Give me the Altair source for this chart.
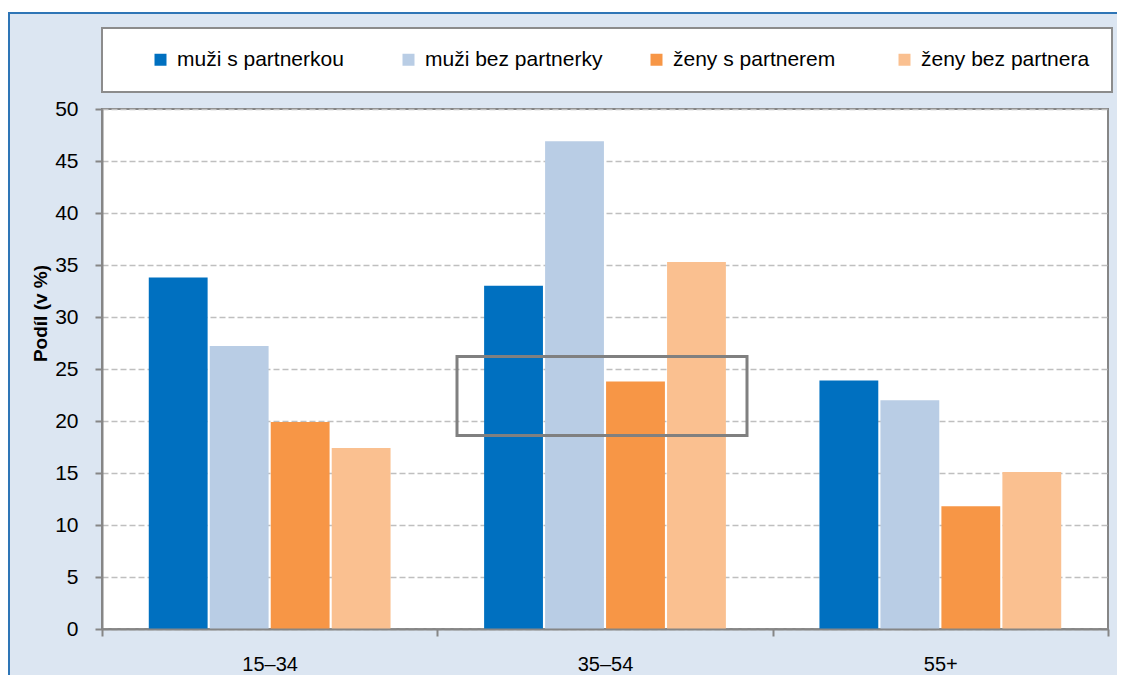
import altair as alt
import pandas as pd

# ---- data ----
categories = ["15–34", "35–54", "55+"]
series = ["muži s partnerkou", "muži bez partnerky", "ženy s partnerem", "ženy bez partnera"]
colors = ["#0070C0", "#B9CDE5", "#F79646", "#FAC090"]
muzi_s_partnerkou = [33.8, 33.0, 23.9]
muzi_bez_partnerky = [27.2, 46.9, 22.0]
zeny_s_partnerem = [19.9, 23.8, 11.8]
zeny_bez_partnera = [17.4, 35.3, 15.1]
y_ticks = [0, 5, 10, 15, 20, 25, 30, 35, 40, 45, 50]
y_title = "Podíl (v %)"
highlight_category = "35–54"
highlight_low = 18.6
highlight_high = 26.2

FONT = "Liberation Sans"

rows = []
for s, vals in zip(series, [muzi_s_partnerkou, muzi_bez_partnerky, zeny_s_partnerem, zeny_bez_partnera]):
    for c, v in zip(categories, vals):
        rows.append({"vek": c, "serie": s, "hodnota": v})
df = pd.DataFrame(rows)

hl = pd.DataFrame({"vek": [highlight_category], "od": [highlight_low], "do": [highlight_high]})
deco = pd.DataFrame({"k": [0]})

x_enc = alt.X(
    "vek:N",
    sort=categories,
    scale=alt.Scale(domain=categories, paddingInner=0, paddingOuter=0),
    axis=alt.Axis(
        title=None, labelAngle=0, tickBand="extent", tickSize=7, tickWidth=2,
        tickColor="#868686", domainColor="#868686", domainWidth=2,
        labelFont=FONT, labelFontSize=20, labelColor="black", labelPadding=18,
        zindex=1,
    ),
)

bars = alt.Chart(df).mark_bar().encode(
    x=x_enc,
    xOffset=alt.XOffset(
        "serie:N", sort=series,
        scale=alt.Scale(domain=series, paddingInner=0.035, paddingOuter=0.767),
    ),
    y=alt.Y(
        "hodnota:Q",
        scale=alt.Scale(domain=[0, 50], nice=False),
        axis=alt.Axis(
            values=y_ticks, title=y_title, grid=True, gridDash=[6, 3], gridColor="#BFBFBF",
            gridWidth=1.5, tickSize=7, tickWidth=2, tickColor="#868686",
            domainColor="#868686", domainWidth=2,
            labelFont=FONT, labelFontSize=21, labelColor="black", labelPadding=17,
            titleFont=FONT, titleFontSize=19, titleFontWeight="bold", titleColor="black",
            titleX=-62, titleY=204, titleAlign="center", titleBaseline="middle",
        ),
    ),
    color=alt.Color(
        "serie:N",
        sort=series,
        scale=alt.Scale(domain=series, range=colors),
        legend=alt.Legend(
            title=None, orient="none", legendX=48, legendY=-60, direction="horizontal",
            columns=4, columnPadding=43, gridAlign="all", symbolType="square",
            symbolSize=144, symbolStrokeWidth=0, labelFont=FONT, labelFontSize=21,
            labelColor="black", labelOffset=6, labelLimit=0, padding=0,
        ),
    ),
)

highlight = alt.Chart(hl).mark_bar(
    width=290, xOffset=-3, fillOpacity=0, stroke="#808080", strokeWidth=3
).encode(
    x=alt.X("vek:N", sort=categories),
    y=alt.Y("od:Q", title=y_title),
    y2="do:Q",
)

white_strip = alt.Chart(deco).mark_rect(color="white").encode(
    x=alt.value(-100), x2=alt.value(1040), y=alt.value(-105), y2=alt.value(-97)
)
border_top = alt.Chart(deco).mark_rule(color="#2E75B6", strokeWidth=2).encode(
    x=alt.value(-94), x2=alt.value(1040), y=alt.value(-96)
)
border_left = alt.Chart(deco).mark_rule(color="#2E75B6", strokeWidth=2).encode(
    x=alt.value(-93), y=alt.value(-96), y2=alt.value(600)
)
legend_box = alt.Chart(deco).mark_rect(fill="white", stroke="#8C8C8C", strokeWidth=2).encode(
    x=alt.value(0), x2=alt.value(1010), y=alt.value(-81), y2=alt.value(-17)
)

chart = alt.layer(
    white_strip, border_top, border_left, legend_box, bars, highlight
).properties(
    width=1006,
    height=520,
    autosize=alt.AutoSizeParams(type="none"),
    padding={"left": 94, "top": 101, "right": 9, "bottom": 46},
    background="#DCE6F2",
).configure_view(
    fill="white", stroke="#868686", strokeWidth=2
)

chart.save("out.html", embed_options={"renderer": "svg", "actions": False})
